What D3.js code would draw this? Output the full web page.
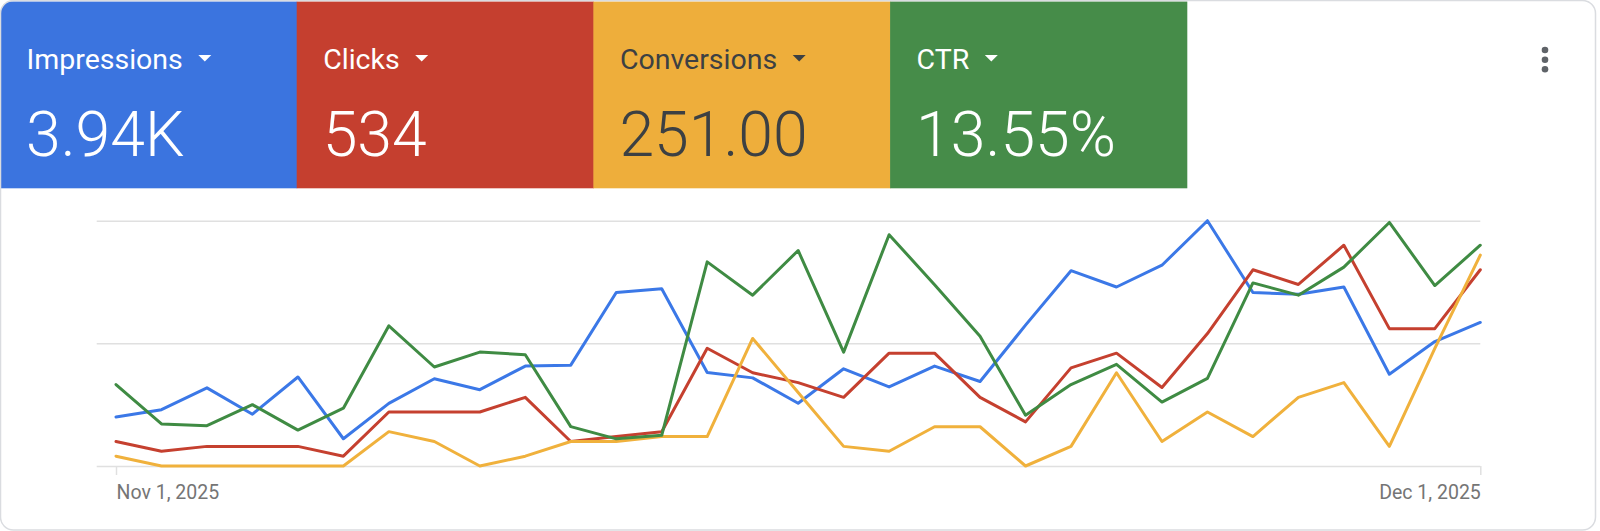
<!DOCTYPE html>
<html>
<head>
<meta charset="utf-8">
<script src="https://cdn.jsdelivr.net/npm/d3@7"></script>
<style>
  html, body { margin: 0; padding: 0; background: #fff; }
  svg { display: block; font-family: Roboto, "Noto Sans", sans-serif; }
</style>
</head>
<body>
<svg id="chart" width="1600" height="531"></svg>
<script>
// ---- data ----
const dates = ["2025-11-01","2025-11-02","2025-11-03","2025-11-04","2025-11-05","2025-11-06","2025-11-07","2025-11-08","2025-11-09","2025-11-10",
  "2025-11-11","2025-11-12","2025-11-13","2025-11-14","2025-11-15","2025-11-16","2025-11-17","2025-11-18","2025-11-19","2025-11-20",
  "2025-11-21","2025-11-22","2025-11-23","2025-11-24","2025-11-25","2025-11-26","2025-11-27","2025-11-28","2025-11-29","2025-11-30","2025-12-01"];
const impressions = [54,62,86,57,98,30,69,96,84,110,111,191,195,103,97,69,107,87,110,93,155,215,197,221,270,191,189,197,101,137,158];
const clicks = [5,3,4,4,4,2,11,11,11,14,5,6,7,24,19,17,14,23,23,14,9,20,23,16,27,40,37,45,28,28,40];
const conversions = [2,0,0,0,0,0,7,5,0,2,5,5,6,6,26,15,4,3,8,8,0,4,19,5,11,6,14,17,4,24,43];
const ctr = [9.3,4.8,4.6,7.0,4.1,6.6,16.0,11.3,13.0,12.7,4.5,3.1,3.5,23.3,19.5,24.6,13.0,26.4,20.7,14.8,5.8,9.3,11.6,7.3,10.0,20.9,19.5,22.7,27.8,20.6,25.2];
const metricNames = ["Impressions","Clicks","Conversions","CTR"];
const metricTotals = ["3.94K","534","251.00","13.55%"];
const axisMax = [270, 50, 50, 28];
const xTickDates = ["2025-11-01","2025-12-01"];

// ---- styles ----
const tileColors = ["#3b74df","#c53f2f","#eeae3b","#468c49"];
const lineColors = ["#3b78e7","#c5402f","#f0b13c","#3f8b43"];
const textColors = ["#ffffff","#ffffff","#3c4043","#ffffff"];

const parse = d3.utcParse("%Y-%m-%d");
const W = 1600, H = 531;
const svg = d3.select("#chart");

// card
const defs = svg.append("defs");
defs.append("clipPath").attr("id","card")
  .append("rect").attr("x",0.5).attr("y",0.5).attr("width",1595).attr("height",529.5).attr("rx",13);

const card = svg.append("g").attr("clip-path","url(#card)");
card.append("rect").attr("x",0).attr("y",0).attr("width",W).attr("height",H).attr("fill","#fff");

// tiles
const tileW = 296.7, tileTop = 1.5, tileBottom = 188.3;
const tiles = card.selectAll("g.tile").data(metricNames).join("g")
  .attr("class","tile")
  .attr("transform",(d,i)=>`translate(${i*tileW},0)`);
tiles.append("rect")
  .attr("x",0).attr("y",tileTop).attr("width",tileW+0.5).attr("height",tileBottom-tileTop)
  .attr("fill",(d,i)=>tileColors[i]);
tiles.append("text")
  .attr("x",26.5).attr("y",69.3)
  .attr("font-size",28.5).attr("fill",(d,i)=>textColors[i])
  .text(d=>d);
tiles.each(function(d,i){
  const t = d3.select(this).select("text").node();
  const x0 = 26.5 + t.getComputedTextLength() + 15.5;
  d3.select(this).append("path")
    .attr("d",`M${x0},55 L${x0+13},55 L${x0+6.5},61.5 Z`)
    .attr("fill",textColors[i]);
});
tiles.append("text")
  .attr("x",26).attr("y",155.5)
  .attr("font-size",62.5).attr("font-weight",350).attr("fill",(d,i)=>textColors[i])
  .text((d,i)=>metricTotals[i]);

// more menu dots
card.selectAll("circle.dot").data([50,59.7,69.3]).join("circle")
  .attr("class","dot").attr("cx",1545).attr("cy",d=>d).attr("r",3.3).attr("fill","#5f6368");

// border
svg.append("rect").attr("x",0.5).attr("y",0.5).attr("width",1595).attr("height",529.5).attr("rx",13)
  .attr("fill","none").attr("stroke","#dadce0").attr("stroke-width",1.5);

// ---- chart ----
const x = d3.scaleUtc().domain([parse(dates[0]), parse(dates[dates.length-1])]).range([116, 1480.3]);
const yTop = 220.7, yBottom = 466;
const series = [impressions, clicks, conversions, ctr];
const yScales = axisMax.map(m => d3.scaleLinear().domain([0,m]).range([yBottom,yTop]));

// gridlines
const grid = svg.append("g").attr("transform","translate(96.7,0)")
  .call(d3.axisRight(yScales[0]).tickValues([0, axisMax[0]/2, axisMax[0]]).tickSize(1480.3-96.7).tickFormat(""));
grid.select(".domain").remove();
grid.selectAll(".tick line").attr("stroke","#e0e0e0").attr("stroke-width",1.5);

// x axis
const xAxis = svg.append("g").attr("transform",`translate(0,${yBottom})`)
  .call(d3.axisBottom(x).tickValues(xTickDates.map(parse)).tickSize(9).tickPadding(0)
    .tickFormat(d3.utcFormat("%b %-d, %Y")));
xAxis.select(".domain").remove();
xAxis.selectAll(".tick line").attr("stroke","#e0e0e0").attr("stroke-width",1.5);
xAxis.selectAll(".tick text")
  .attr("font-family","Roboto, sans-serif").attr("font-size",19.5).attr("fill","#757575")
  .attr("dy",null).attr("y",33)
  .attr("text-anchor",(d,i)=> i===0 ? "start" : "end");

// lines
series.forEach((vals,k)=>{
  const line = d3.line()
    .x((d,i)=>x(parse(dates[i])))
    .y(d=>yScales[k](d));
  svg.append("path").datum(vals)
    .attr("d",line)
    .attr("fill","none")
    .attr("stroke",lineColors[k])
    .attr("stroke-width",3)
    .attr("stroke-linejoin","round")
    .attr("stroke-linecap","round");
});
</script>
</body>
</html>
